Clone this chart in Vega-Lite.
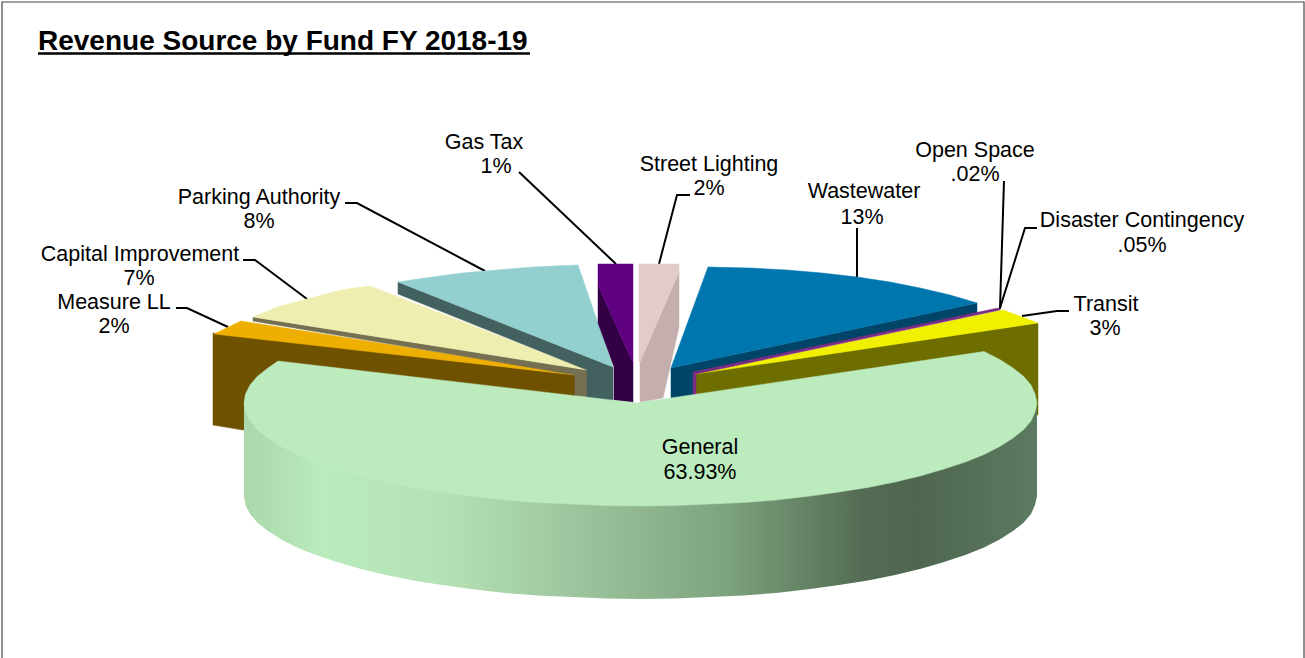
{
"$schema":"https://vega.github.io/schema/vega-lite/v6.json",
"width":1305,"height":658,"padding":0,"autosize":{"type":"none"},"background":"white",
"config":{"view":{"stroke":null}},
"projection":{"type":"identity","reflectY":true,"scale":1,"translate":[640,403]},
"datasets":{
"faces":[
{"fund":"Transit","share":3,"face":"Transit side","outline":{"type":"Polygon","coordinates":[[[398,80],[56,30],[56,3],[398,-12],[398,80]]]}},
{"fund":"Transit","share":3,"face":"Transit top","outline":{"type":"Polygon","coordinates":[[[363,93],[398,80],[56,29],[363,93]]]}},
{"fund":"Measure LL","share":2,"face":"Measure LL side","outline":{"type":"Polygon","coordinates":[[[-427,70],[-65,28],[-65,-2],[-397,-27],[-427,-22],[-427,70]]]}},
{"fund":"Measure LL","share":2,"face":"Measure LL top","outline":{"type":"Polygon","coordinates":[[[-426,69],[-399,82],[-65,29],[-65,28],[-426,69]]]}},
{"fund":"Capital Improvement","share":7,"face":"Capital Improvement side","outline":{"type":"Polygon","coordinates":[[[-387,86],[-387,82],[-65,28],[-65,7],[-53,6],[-53,33],[-387,86]]]}},
{"fund":"Capital Improvement","share":7,"face":"Capital Improvement top","outline":{"type":"Polygon","coordinates":[[[-387,86],[-375,91],[-363,96],[-348,100],[-333,104],[-318,108],[-303,112],[-287,115],[-270,117],[-53,33],[-387,86]]]}},
{"fund":"Parking Authority","share":8,"face":"Parking Authority side","outline":{"type":"Polygon","coordinates":[[[-242,121],[-242,109],[-53,33],[-53,5],[-27,1],[-27,36],[-242,121]]]}},
{"fund":"Parking Authority","share":8,"face":"Parking Authority top","outline":{"type":"Polygon","coordinates":[[[-242,121],[-222,124],[-200,127],[-178,130],[-155,132],[-131,134],[-107,136],[-85,137],[-62,138],[-27,36],[-242,121]]]}},
{"fund":"Gas Tax","share":1,"face":"Gas Tax side","outline":{"type":"Polygon","coordinates":[[[-42,118],[-7,40],[-7,1],[-26,3],[-26,36],[-42,80],[-42,118]]]}},
{"fund":"Gas Tax","share":1,"face":"Gas Tax top","outline":{"type":"Polygon","coordinates":[[[-42,139],[-7,139],[-7,40],[-42,118],[-42,139]]]}},
{"fund":"Street Lighting","share":2,"face":"Street Lighting side","outline":{"type":"Polygon","coordinates":[[[39,131],[39,76],[23,5],[0,1],[0,41],[39,131]]]}},
{"fund":"Street Lighting","share":2,"face":"Street Lighting top","outline":{"type":"Polygon","coordinates":[[[-1,139],[39,139],[39,131],[0,41],[-1,41],[-1,139]]]}},
{"fund":"Wastewater","share":13,"face":"Wastewater side","outline":{"type":"Polygon","coordinates":[[[337,100],[337,90],[56,30],[54,7],[31,5],[31,35],[337,100]]]}},
{"fund":"Wastewater","share":13,"face":"Wastewater top","outline":{"type":"Polygon","coordinates":[[[68,136],[110,135],[147,133],[182,130],[217,126],[250,121],[280,115],[310,108],[337,100],[31,35],[68,136]]]}},
{"fund":"Open Space and Disaster Contingency","share":0.07,"face":"Open Space top","outline":{"type":"Polygon","coordinates":[[[358,95],[360,93],[56,29],[56,7],[53,7],[53,31],[358,95]]]}}
],
"general":[
{"fund":"General","share":63.93,"face":"General side","outline":{"type":"Polygon","coordinates":[[[397,0],[397,-93],[395,-102],[391,-111],[383.5,-119.7],[373,-128],[359.7,-136.5],[344,-144.5],[325.3,-152.1],[304,-159],[280.9,-165.8],[255,-172],[228,-177.4],[199,-182],[168.2,-186.3],[136,-190],[103.2,-192.5],[69,-194],[35,-195.6],[0.5,-196],[-34,-195.6],[-68,-194],[-102.2,-192.5],[-135,-190],[-167.2,-186.3],[-198,-182],[-227,-177.4],[-254,-172],[-279.9,-165.8],[-303,-159],[-324.3,-152.1],[-343,-144.5],[-358.7,-136.5],[-372,-128],[-382.5,-119.7],[-390,-111],[-394.5,-102],[-396,-93],[-396,0],[397,0]]]}},
{"fund":"General","share":63.93,"face":"General top","outline":{"type":"Polygon","coordinates":[[[344,51.5],[359.7,43.5],[373,35],[383.5,26.7],[391,18],[395,9],[397,0],[395,-9],[391,-18],[383.5,-26.7],[373,-35],[359.7,-43.5],[344,-51.5],[325.3,-59.1],[304,-66],[280.9,-72.8],[255,-79],[228,-84.4],[199,-89],[168.2,-93.3],[136,-97],[103.2,-99.5],[69,-101],[35,-102.6],[0.5,-103],[-34,-102.6],[-68,-101],[-102.2,-99.5],[-135,-97],[-167.2,-93.3],[-198,-89],[-227,-84.4],[-254,-79],[-279.9,-72.8],[-303,-66],[-324.3,-59.1],[-343,-51.5],[-358.7,-43.5],[-372,-35],[-382.5,-26.7],[-390,-18],[-394.5,-9],[-396,0],[-394.5,9],[-390,18],[-382.5,26.7],[-372,35],[-362,42],[-3,0],[344,51.5]]]}}
],
"labels":[
{"fund":"Gas Tax","share":"1%","nameLon":-156,"nameLat":254,"shareLon":-144,"shareLat":230,"leader":{"type":"LineString","coordinates":[[-121,231],[-24,139]]}},
{"fund":"Street Lighting","share":"2%","nameLon":69,"nameLat":232,"shareLon":69,"shareLat":208,"leader":{"type":"LineString","coordinates":[[50,208],[37,208],[19,139]]}},
{"fund":"Wastewater","share":"13%","nameLon":224,"nameLat":205,"shareLon":222,"shareLat":179,"leader":{"type":"LineString","coordinates":[[217,175],[217,126]]}},
{"fund":"Open Space","share":".02%","nameLon":335,"nameLat":246,"shareLon":335,"shareLat":222,"leader":{"type":"LineString","coordinates":[[364,222],[360,94]]}},
{"fund":"Disaster Contingency","share":".05%","nameLon":502,"nameLat":176,"shareLon":502,"shareLat":151,"leader":{"type":"LineString","coordinates":[[397,175],[385,175],[360,95]]}},
{"fund":"Transit","share":"3%","nameLon":466,"nameLat":92,"shareLon":465,"shareLat":68,"leader":{"type":"LineString","coordinates":[[429,92],[417,92],[382,87]]}},
{"fund":"Parking Authority","share":"8%","nameLon":-381,"nameLat":199,"shareLon":-381,"shareLat":175,"leader":{"type":"LineString","coordinates":[[-295,200],[-283,200],[-155,132]]}},
{"fund":"Capital Improvement","share":"7%","nameLon":-500,"nameLat":142,"shareLon":-501,"shareLat":118,"leader":{"type":"LineString","coordinates":[[-397,143],[-385,143],[-333,104]]}},
{"fund":"Measure LL","share":"2%","nameLon":-526,"nameLat":94,"shareLon":-526,"shareLat":70,"leader":{"type":"LineString","coordinates":[[-464,95],[-453,95],[-412,76]]}},
{"fund":"General","share":"63.93%","nameLon":60,"nameLat":-51,"shareLon":60,"shareLat":-76}
],
"furniture":[
{"name":"frame","path":{"type":"LineString","coordinates":[[-638,-255],[-638,401],[664,401],[664,-255]]}}
],
"underline":[
{"name":"title underline","path":{"type":"LineString","coordinates":[[-602,349.5],[-110,349.5]]}}
],
"title":[{"text":"Revenue Source by Fund FY 2018-19","lon":-602,"lat":353}]
},
"layer":[
{"data":{"name":"furniture"},"mark":{"type":"geoshape","filled":false,"stroke":"#444444","strokeWidth":1.2},"encoding":{"shape":{"field":"path","type":"geojson"}}},
{"data":{"name":"underline"},"mark":{"type":"geoshape","filled":false,"stroke":"#000000","strokeWidth":2.5},"encoding":{"shape":{"field":"path","type":"geojson"}}},
{"data":{"name":"title"},"mark":{"type":"text","font":"Liberation Sans","fontSize":28,"fontWeight":"bold","align":"left","baseline":"alphabetic","color":"#000000"},"encoding":{"longitude":{"field":"lon","type":"quantitative"},"latitude":{"field":"lat","type":"quantitative"},"text":{"field":"text"}}},
{"data":{"name":"labels"},"transform":[{"filter":"datum.leader"}],"mark":{"type":"geoshape","filled":false,"stroke":"#000000","strokeWidth":2},"encoding":{"shape":{"field":"leader","type":"geojson"}}},
{"data":{"name":"faces"},"mark":{"type":"geoshape","strokeWidth":0.5},"encoding":{"shape":{"field":"outline","type":"geojson"},
"fill":{"field":"face","type":"nominal","legend":null,"scale":{"domain":["Transit side","Transit top","Measure LL side","Measure LL top","Capital Improvement side","Capital Improvement top","Parking Authority side","Parking Authority top","Gas Tax side","Gas Tax top","Street Lighting side","Street Lighting top","Wastewater side","Wastewater top","Open Space top"],"range":["#6E6E00","#F0F000","#6E5200","#EFAF00","#757052","#EEEEB0","#43615F","#93CFCF","#330046","#5F0080","#C4AEAE","#E2CBCB","#004567","#0076AE","#7B2D86"]}},
"stroke":{"field":"face","type":"nominal","legend":null,"scale":{"domain":["Transit side","Transit top","Measure LL side","Measure LL top","Capital Improvement side","Capital Improvement top","Parking Authority side","Parking Authority top","Gas Tax side","Gas Tax top","Street Lighting side","Street Lighting top","Wastewater side","Wastewater top","Open Space top"],"range":["#6E6E00","#F0F000","#6E5200","#EFAF00","#757052","#EEEEB0","#43615F","#93CFCF","#330046","#5F0080","#C4AEAE","#E2CBCB","#004567","#0076AE","#7B2D86"]}}}},
{"data":{"name":"general"},"transform":[{"filter":"datum.face === 'General side'"}],"mark":{"type":"geoshape","stroke":null,"fill":{"gradient":"linear","x1":0,"x2":1,"y1":0,"y2":0,"stops":[{"offset":0,"color":"#abd8ab"},{"offset":0.1,"color":"#b9ebbd"},{"offset":0.25,"color":"#b5e2b5"},{"offset":0.4,"color":"#a0c8a0"},{"offset":0.6,"color":"#7fa580"},{"offset":0.78,"color":"#546c53"},{"offset":0.85,"color":"#4f664f"},{"offset":1,"color":"#5c7b60"}]}},"encoding":{"shape":{"field":"outline","type":"geojson"}}},
{"data":{"name":"general"},"transform":[{"filter":"datum.face === 'General top'"}],"mark":{"type":"geoshape","fill":"#BCEBBD","stroke":"#BCEBBD","strokeWidth":0.5},"encoding":{"shape":{"field":"outline","type":"geojson"}}},
{"data":{"name":"labels"},"mark":{"type":"text","font":"Liberation Sans","fontSize":21.5,"align":"center","baseline":"alphabetic","color":"#000000"},"encoding":{"longitude":{"field":"nameLon","type":"quantitative"},"latitude":{"field":"nameLat","type":"quantitative"},"text":{"field":"fund"}}},
{"data":{"name":"labels"},"mark":{"type":"text","font":"Liberation Sans","fontSize":21.5,"align":"center","baseline":"alphabetic","color":"#000000"},"encoding":{"longitude":{"field":"shareLon","type":"quantitative"},"latitude":{"field":"shareLat","type":"quantitative"},"text":{"field":"share"}}}
]
}
